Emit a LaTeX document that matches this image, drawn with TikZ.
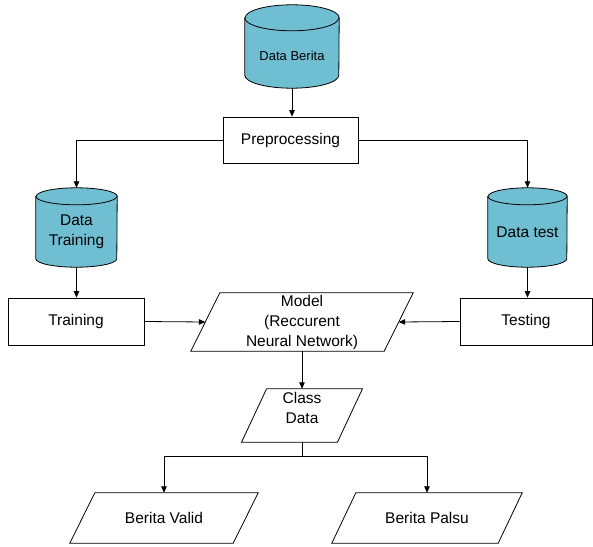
\documentclass[tikz,border=0pt]{standalone}
\usepackage{fontspec}
\setmainfont{Liberation Sans}
\usetikzlibrary{arrows.meta,backgrounds}
\definecolor{cylfill}{RGB}{112,190,210}
\newcommand\mycyl[3]{%
  \path[draw=black, fill=cylfill, line width=0.8pt]
    (#1.north west) -- ([yshift=#3]#1.south west)
    arc[start angle=180,end angle=360,x radius=#2,y radius=#3]
    -- (#1.north east)
    arc[start angle=0,end angle=180,x radius=#2,y radius=#3] -- cycle;
  \draw[line width=0.8pt] (#1.north west)
    arc[start angle=180,end angle=360,x radius=#2,y radius=#3];
}
\newcommand\mypar[2]{%
  \draw[line width=0.8pt] ([xshift=#2]#1.north west) -- ([xshift=#2]#1.north east)
    -- ([xshift=-#2]#1.south east) -- ([xshift=-#2]#1.south west) -- cycle;
}
\tikzset{
  base/.style={inner sep=0pt, align=center, font=\fontsize{15.5pt}{20pt}\selectfont},
  procbox/.style={base, draw, line width=0.8pt},
  plain/.style={base},
  arr/.style={line width=0.8pt, -{Triangle[length=6.5pt,width=5.5pt]}},
  ln/.style={line width=0.8pt}
}
\begin{document}
\begin{tikzpicture}[x=1pt,y=-1pt]
\useasboundingbox (0,0) rectangle (593,546);
% cylinders
\node[plain, minimum width=94pt, minimum height=70pt, font=\fontsize{13pt}{16pt}\selectfont, text height=17pt, text depth=2pt] (dberita) at (292,53) {Data Berita};
\node[plain, minimum width=81pt, minimum height=70.5pt] (dtrain) at (76.5,231.75) {Data\\Training};
\node[plain, minimum width=79pt, minimum height=70.5pt] (dtest) at (527.5,231.75) {Data test};
\begin{pgfonlayer}{background}
\mycyl{dberita}{47pt}{13pt}
\mycyl{dtrain}{40.5pt}{8.5pt}
\mycyl{dtest}{39.5pt}{8.5pt}
\end{pgfonlayer}
% boxes
\node[procbox, minimum width=135pt, minimum height=46pt] (pre) at (290.5,140) {Preprocessing};
\node[procbox, minimum width=136pt, minimum height=47pt] (train) at (76,321.5) {Training};
\node[procbox, minimum width=132pt, minimum height=47pt] (test) at (526,321.5) {Testing};
% parallelograms
\node[plain, minimum width=193pt, minimum height=58pt] (model) at (302,322) {Model\\(Reccurent\\Neural Network)};
\mypar{model}{14.5pt}
\node[plain, minimum width=95.5pt, minimum height=53pt, text depth=16pt] (class) at (302,415.5) {Class\\Data};
\mypar{class}{12.5pt}
\node[plain, minimum width=163pt, minimum height=50pt] (valid) at (164,518) {Berita Valid};
\mypar{valid}{12.5pt}
\node[plain, minimum width=166pt, minimum height=50pt] (palsu) at (427,518) {Berita Palsu};
\mypar{palsu}{12pt}
% connectors
\draw[arr] (dberita.south) -- (dberita.south |- pre.north);
\draw[arr] (pre.west) -| ([yshift=8.5pt]dtrain.north);
\draw[arr] (pre.east) -| ([yshift=8.5pt]dtest.north);
\draw[arr] (dtrain.south) -- (dtrain.south |- train.north);
\draw[arr] (dtest.south) -- (dtest.south |- test.north);
\draw[arr] (train.east) -- (model.west);
\draw[arr] (test.west) -- (model.east);
\draw[arr] (model.south) -- (class.north);
\coordinate (split) at (302,456);
\draw[ln] (class.south) -- (split);
\draw[arr] (split) -| (valid.north);
\draw[arr] (split) -| (palsu.north);
\end{tikzpicture}
\end{document}
